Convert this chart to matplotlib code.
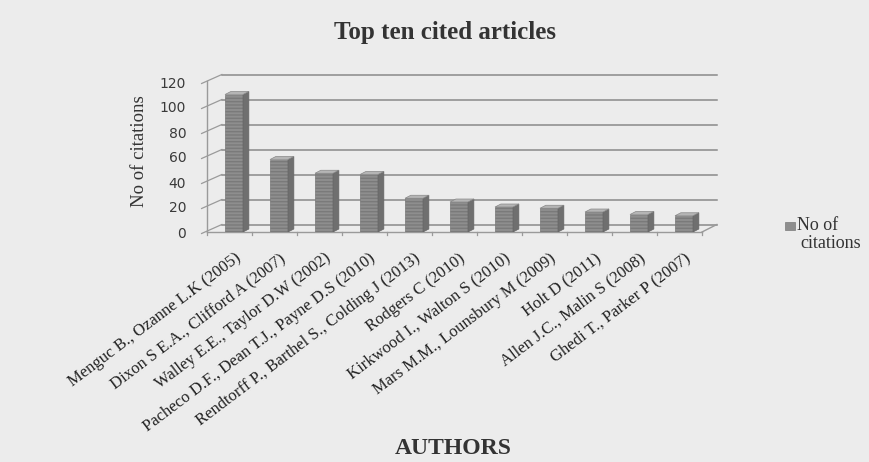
import numpy as np
import matplotlib
matplotlib.use('Agg')
from matplotlib import pyplot as plt
from matplotlib.patches import Polygon

authors = ['Menguc B., Ozanne L.K (2005)', 'Dixon S E.A., Clifford A (2007)',
           'Walley E.E., Taylor D.W (2002)', 'Pacheco D.F., Dean T.J., Payne D.S (2010)',
           'Rendtorff P., Barthel S., Colding J (2013)', 'Rodgers C (2010)',
           'Kirkwood I., Walton S (2010)', 'Mars M.M., Lounsbury M (2009)',
           'Holt D (2011)', 'Allen J.C., Malin S (2008)', 'Ghedi T., Parker P (2007)']
citations = [110, 58, 47, 46, 27, 24, 20, 19, 16, 14, 13]
yticks = [0, 20, 40, 60, 80, 100, 120]

serif = ['Liberation Serif', 'DejaVu Serif']
bg = '#ececec'

fig = plt.figure(figsize=(8.7, 4.62), dpi=100)
fig.patch.set_facecolor(bg)
ax = fig.add_axes([207/870, 1-232/462, 513/870, 160/462])
ax.set_facecolor('none')
n = len(citations)
x = np.arange(n)
ddx, ddy = 0.33, 6.0      # depth offset of the back wall (data units)
ax.set_xlim(-0.5, -0.5 + 513/45)
ax.set_ylim(0, 128)
for s in ax.spines.values():
    s.set_visible(False)

# back wall gridlines and left side ticks
for v in yticks:
    ax.plot([-0.5 + ddx, n - 0.5 + ddx], [v + ddy, v + ddy], color='#8a8a8a', lw=1.1, clip_on=False)
    ax.plot([-0.62, -0.5 + ddx], [v - 1.2, v + ddy], color='#9a9a9a', lw=0.9, clip_on=False)
# front axis and floor edges
ax.plot([-0.5, -0.5], [0, 121], color='#9a9a9a', lw=1.0, clip_on=False)
ax.plot([-0.5, n - 0.5], [0, 0], color='#9a9a9a', lw=1.0, clip_on=False)
ax.plot([n - 0.5, n - 0.5 + ddx], [0, ddy], color='#9a9a9a', lw=1.0, clip_on=False)
for b in np.arange(-0.5, n, 1.0):
    ax.plot([b, b], [0, -2.2], color='#9a9a9a', lw=0.9, clip_on=False)

# 3d columns
w, sd, st = 0.4, 0.13, 2.4
x0 = x - w/2 + 0.1
ax.bar(x0, citations, width=w, align='edge', color='#8e8e8e', edgecolor='#7a7a7a',
       hatch='-----', lw=0.5, zorder=3)
for xi, v in zip(x0, citations):
    ax.add_patch(Polygon([[xi + w, 0], [xi + w + sd, st], [xi + w + sd, v + st], [xi + w, v]],
                         closed=True, fc='#6f6f6f', ec='#666666', lw=0.5, zorder=3))
    ax.add_patch(Polygon([[xi, v], [xi + w, v], [xi + w + sd, v + st], [xi + sd, v + st]],
                         closed=True, fc='#b5b5b5', ec='#888888', lw=0.5, zorder=3))

ax.set_yticks(yticks)
ax.set_yticklabels([str(v) for v in yticks], fontsize=10, family=['DejaVu Sans'], color='#3a3a3a')
ax.tick_params(axis='y', length=0, pad=15)
ax.set_xticks(x + 0.1)
ax.set_xticklabels(authors, rotation=37, ha='right', rotation_mode='anchor',
                   fontsize=12, family=serif, color='#222222')
ax.tick_params(axis='x', length=0, pad=13)

fig.text(445/870, 1 - 32/462, 'Top ten cited articles', ha='center', va='center',
         fontsize=18, fontweight='bold', family=serif, color='#333333')
fig.text(453/870, 1 - 448/462, 'AUTHORS', ha='center', va='center',
         fontsize=17, fontweight='bold', family=serif, color='#333333')
fig.text(140/870, 1 - 151/462, 'No of citations', ha='center', va='center', rotation=90,
         fontsize=13.5, family=serif, color='#333333')

# legend
fig.patches.append(Polygon([[785/870, 1-222/462], [795/870, 1-222/462], [795/870, 1-230/462], [785/870, 1-230/462]],
                           closed=True, transform=fig.transFigure, fc='#8e8e8e', ec='#7a7a7a', lw=0.5))
fig.text(797/870, 1 - 226/462, 'No of', ha='left', va='center', fontsize=13, family=serif, color='#333333')
fig.text(800/870, 1 - 243/462, 'citations', ha='left', va='center', fontsize=13, family=serif, color='#333333')

fig.savefig('out.png', dpi=100, facecolor=bg)
